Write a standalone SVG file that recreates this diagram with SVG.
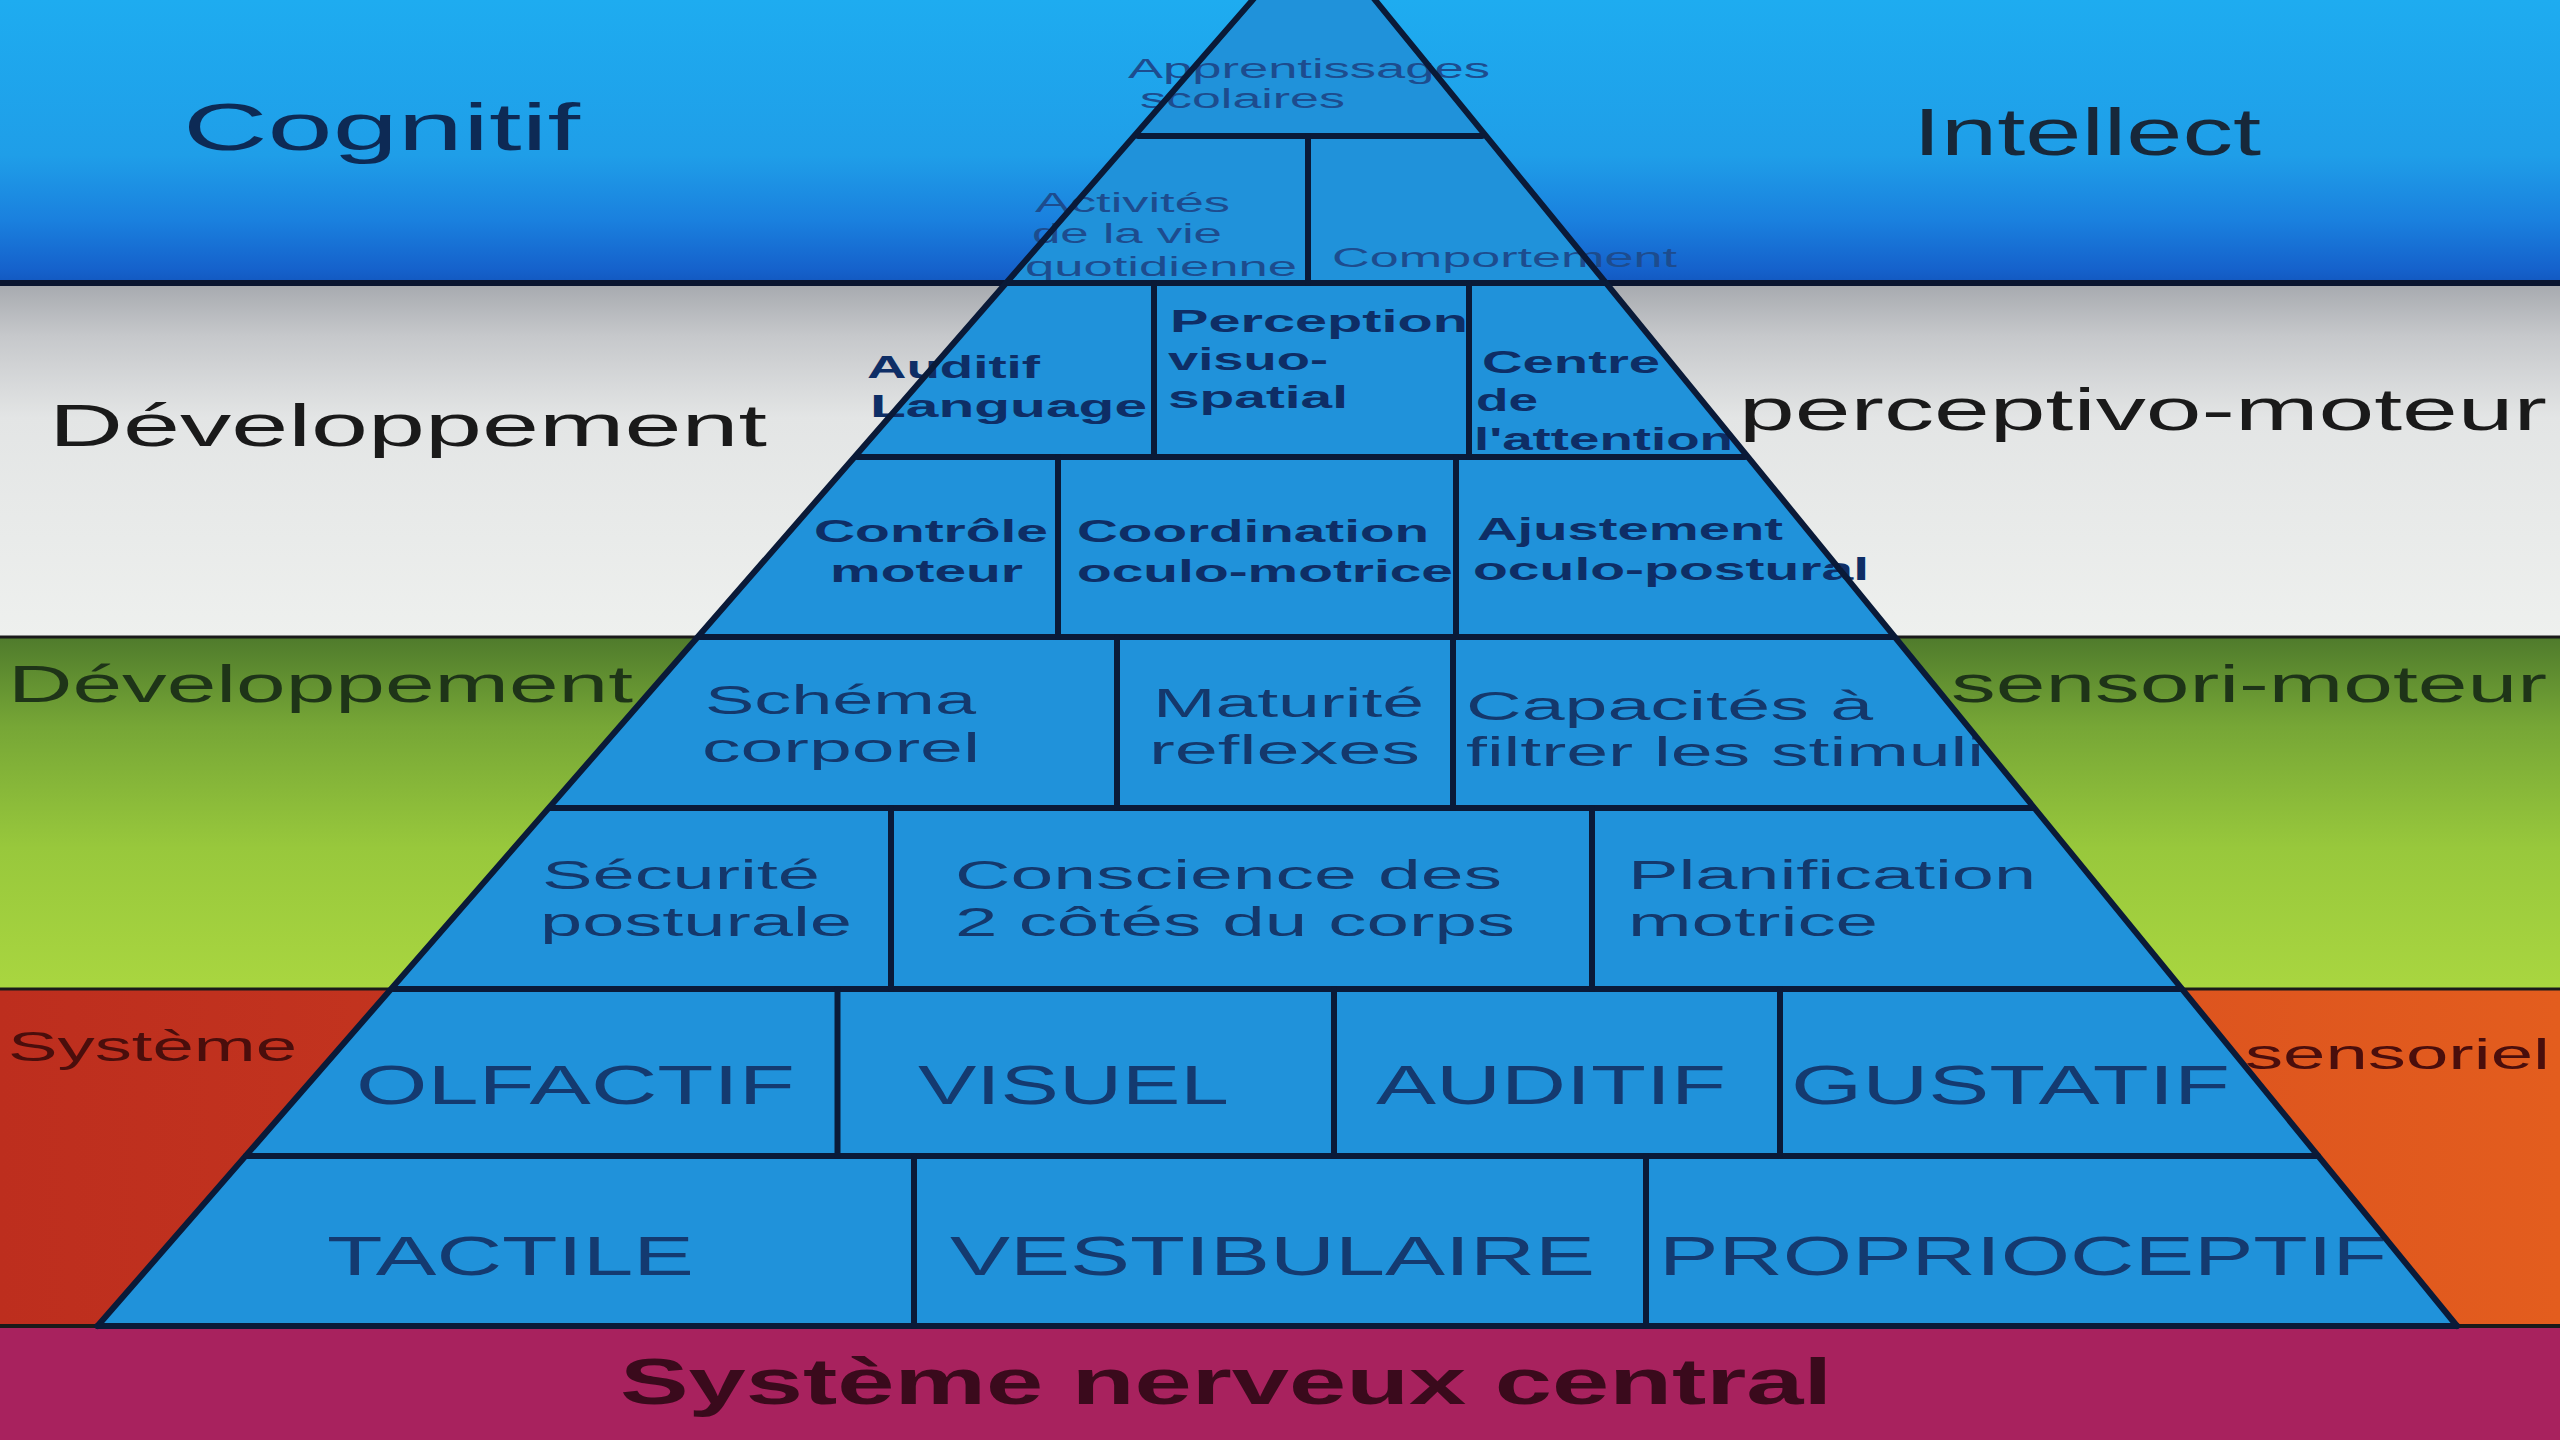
<svg xmlns="http://www.w3.org/2000/svg" width="2560" height="1440" viewBox="0 0 2560 1440">
<defs>
<linearGradient id="gBlue" x1="0" y1="0" x2="0" y2="1">
<stop offset="0" stop-color="#1eacf0"/>
<stop offset="0.55" stop-color="#1f9ee8"/>
<stop offset="0.78" stop-color="#1a80de"/>
<stop offset="0.95" stop-color="#1562cc"/>
<stop offset="1" stop-color="#1258c0"/>
</linearGradient>
<linearGradient id="gWhite" x1="0" y1="0" x2="0" y2="1">
<stop offset="0" stop-color="#a6a9ae"/>
<stop offset="0.15" stop-color="#c6c8cb"/>
<stop offset="0.38" stop-color="#e3e5e5"/>
<stop offset="1" stop-color="#eef0ee"/>
</linearGradient>
<linearGradient id="gGreen" x1="0" y1="0" x2="0" y2="1">
<stop offset="0" stop-color="#4f7b2c"/>
<stop offset="0.25" stop-color="#76a636"/>
<stop offset="0.6" stop-color="#98c83c"/>
<stop offset="1" stop-color="#a9d640"/>
</linearGradient>
<linearGradient id="gRed" x1="0" y1="0" x2="1" y2="0">
<stop offset="0" stop-color="#bd2e1e"/>
<stop offset="0.5" stop-color="#cf4020"/>
<stop offset="1" stop-color="#e35d1e"/>
</linearGradient>
<style>
text{font-family:"Liberation Sans",Arial,sans-serif;}
.side{fill:#1a1a1a;}
.cell{fill:#2092da;}
.t12{fill:#1d4c8e;font-size:27px;}
.t34{fill:#0e2e66;font-size:32px;font-weight:bold;}
.t56{fill:#14386c;font-size:41px;}
.t78{fill:#143a70;font-size:56px;}
.grid{stroke:#0a1a38;stroke-width:6;fill:none;stroke-linecap:round;}
.band{stroke:#1a1a1a;stroke-width:3;fill:none;}
</style>
</defs>

<g id="backgrounds">
<rect x="0" y="0" width="2560" height="283" fill="url(#gBlue)"/>
<rect x="0" y="283" width="2560" height="354" fill="url(#gWhite)"/>
<rect x="0" y="637" width="2560" height="352" fill="url(#gGreen)"/>
<rect x="0" y="989" width="2560" height="337" fill="url(#gRed)"/>
<rect x="0" y="1326" width="2560" height="114" fill="#a8225e"/>
</g>

<g id="side-labels">
<text class="side" x="183" y="150" font-size="66" style="fill:#0d2a55" textLength="397" lengthAdjust="spacingAndGlyphs">Cognitif</text>
<text class="side" x="1913" y="155" font-size="66" style="fill:#17283a" textLength="348" lengthAdjust="spacingAndGlyphs">Intellect</text>
<text class="side" x="49" y="446" font-size="59" textLength="718" lengthAdjust="spacingAndGlyphs">Développement</text>
<text class="side" x="1739" y="430" font-size="59" textLength="808" lengthAdjust="spacingAndGlyphs">perceptivo-moteur</text>
<text class="side" x="8" y="702" font-size="52" style="fill:#1e3418" textLength="625" lengthAdjust="spacingAndGlyphs">Développement</text>
<text class="side" x="1951" y="702" font-size="52" style="fill:#1e3418" textLength="596" lengthAdjust="spacingAndGlyphs">sensori-moteur</text>
<text class="side" x="8" y="1061" font-size="42" style="fill:#4a0e0c" textLength="289" lengthAdjust="spacingAndGlyphs">Système</text>
<text class="side" x="2245" y="1069" font-size="42" style="fill:#4a0e0c" textLength="305" lengthAdjust="spacingAndGlyphs">sensoriel</text>
</g>

<g id="snc">
<text x="620" y="1404" font-size="64" font-weight="bold" fill="#3a0a1c" textLength="1212" lengthAdjust="spacingAndGlyphs">Système nerveux central</text>
</g>

<g id="pyramid">
<g id="apprentissages">
<polygon class="cell" points="1257,0 1371,0 1482,136 1138,136"/>
<text class="t12" x="1128" y="78" textLength="362" lengthAdjust="spacingAndGlyphs">Apprentissages</text>
<text class="t12" x="1140" y="108" textLength="205" lengthAdjust="spacingAndGlyphs">scolaires</text>
</g>
<g id="activites">
<polygon class="cell" points="1138,136 1308,136 1308,283 1009.5,283"/>
<text class="t12" x="1035" y="212" textLength="195" lengthAdjust="spacingAndGlyphs">Activités</text>
<text class="t12" x="1032" y="243" textLength="190" lengthAdjust="spacingAndGlyphs">de la vie</text>
<text class="t12" x="1025" y="276" textLength="272" lengthAdjust="spacingAndGlyphs">quotidienne</text>
</g>
<g id="comportement">
<polygon class="cell" points="1308,136 1482,136 1603,283 1308,283"/>
<text class="t12" x="1332" y="267" textLength="345" lengthAdjust="spacingAndGlyphs">Comportement</text>
</g>

<g id="auditif-language">
<polygon class="cell" points="1009.5,283 1154,283 1154,457 857,457"/>
<text class="t34" x="867" y="378" textLength="173" lengthAdjust="spacingAndGlyphs">Auditif</text>
<text class="t34" x="870" y="417" textLength="277" lengthAdjust="spacingAndGlyphs">Language</text>
</g>
<g id="perception">
<polygon class="cell" points="1154,283 1469,283 1469,457 1154,457"/>
<text class="t34" x="1170" y="332" textLength="298" lengthAdjust="spacingAndGlyphs">Perception</text>
<text class="t34" x="1168" y="370" textLength="160" lengthAdjust="spacingAndGlyphs">visuo-</text>
<text class="t34" x="1168" y="408" textLength="180" lengthAdjust="spacingAndGlyphs">spatial</text>
</g>
<g id="centre-attention">
<polygon class="cell" points="1469,283 1603,283 1745,457 1469,457"/>
<text class="t34" x="1482" y="373" textLength="178" lengthAdjust="spacingAndGlyphs">Centre</text>
<text class="t34" x="1476" y="411" textLength="62" lengthAdjust="spacingAndGlyphs">de</text>
<text class="t34" x="1474" y="450" textLength="259" lengthAdjust="spacingAndGlyphs">l'attention</text>
</g>

<g id="controle-moteur">
<polygon class="cell" points="857,457 1058,457 1058,637 700,637"/>
<text class="t34" x="814" y="542" textLength="234" lengthAdjust="spacingAndGlyphs">Contrôle</text>
<text class="t34" x="830" y="582" textLength="193" lengthAdjust="spacingAndGlyphs">moteur</text>
</g>
<g id="coordination">
<polygon class="cell" points="1058,457 1456,457 1456,637 1058,637"/>
<text class="t34" x="1077" y="542" textLength="352" lengthAdjust="spacingAndGlyphs">Coordination</text>
<text class="t34" x="1077" y="582" textLength="376" lengthAdjust="spacingAndGlyphs">oculo-motrice</text>
</g>
<g id="ajustement">
<polygon class="cell" points="1456,457 1745,457 1893,637 1456,637"/>
<text class="t34" x="1477" y="540" textLength="306" lengthAdjust="spacingAndGlyphs">Ajustement</text>
<text class="t34" x="1473" y="580" textLength="396" lengthAdjust="spacingAndGlyphs">oculo-postural</text>
</g>

<g id="schema-corporel">
<polygon class="cell" points="700,637 1117,637 1117,808 550.5,808"/>
<text class="t56" x="705" y="714" textLength="271" lengthAdjust="spacingAndGlyphs">Schéma</text>
<text class="t56" x="702" y="762" textLength="278" lengthAdjust="spacingAndGlyphs">corporel</text>
</g>
<g id="maturite-reflexes">
<polygon class="cell" points="1117,637 1453,637 1453,808 1117,808"/>
<text class="t56" x="1153" y="717" textLength="271" lengthAdjust="spacingAndGlyphs">Maturité</text>
<text class="t56" x="1149" y="764" textLength="271" lengthAdjust="spacingAndGlyphs">reflexes</text>
</g>
<g id="capacites">
<polygon class="cell" points="1453,637 1893,637 2033,808 1453,808"/>
<text class="t56" x="1466" y="720" textLength="407" lengthAdjust="spacingAndGlyphs">Capacités à</text>
<text class="t56" x="1466" y="766" textLength="518" lengthAdjust="spacingAndGlyphs">filtrer les stimuli</text>
</g>

<g id="securite-posturale">
<polygon class="cell" points="550.5,808 891,808 891,989 392,989"/>
<text class="t56" x="542" y="889" textLength="278" lengthAdjust="spacingAndGlyphs">Sécurité</text>
<text class="t56" x="540" y="936" textLength="312" lengthAdjust="spacingAndGlyphs">posturale</text>
</g>
<g id="conscience">
<polygon class="cell" points="891,808 1592,808 1592,989 891,989"/>
<text class="t56" x="955" y="889" textLength="547" lengthAdjust="spacingAndGlyphs">Conscience des</text>
<text class="t56" x="955" y="936" textLength="560" lengthAdjust="spacingAndGlyphs">2 côtés du corps</text>
</g>
<g id="planification">
<polygon class="cell" points="1592,808 2033,808 2181,989 1592,989"/>
<text class="t56" x="1628" y="889" textLength="408" lengthAdjust="spacingAndGlyphs">Planification</text>
<text class="t56" x="1628" y="936" textLength="250" lengthAdjust="spacingAndGlyphs">motrice</text>
</g>

<g id="olfactif">
<polygon class="cell" points="392,989 837.5,989 837.5,1156 246,1156"/>
<text class="t78" x="356" y="1104" textLength="439" lengthAdjust="spacingAndGlyphs">OLFACTIF</text>
</g>
<g id="visuel">
<polygon class="cell" points="837.5,989 1334,989 1334,1156 837.5,1156"/>
<text class="t78" x="918" y="1104" textLength="311" lengthAdjust="spacingAndGlyphs">VISUEL</text>
</g>
<g id="auditif">
<polygon class="cell" points="1334,989 1780,989 1780,1156 1334,1156"/>
<text class="t78" x="1376" y="1104" textLength="350" lengthAdjust="spacingAndGlyphs">AUDITIF</text>
</g>
<g id="gustatif">
<polygon class="cell" points="1780,989 2181,989 2318,1156 1780,1156"/>
<text class="t78" x="1791" y="1104" textLength="439" lengthAdjust="spacingAndGlyphs">GUSTATIF</text>
</g>

<g id="tactile">
<polygon class="cell" points="246,1156 914,1156 914,1326 97.5,1326"/>
<text class="t78" x="327" y="1275" textLength="367" lengthAdjust="spacingAndGlyphs">TACTILE</text>
</g>
<g id="vestibulaire">
<polygon class="cell" points="914,1156 1646,1156 1646,1326 914,1326"/>
<text class="t78" x="950" y="1275" textLength="645" lengthAdjust="spacingAndGlyphs">VESTIBULAIRE</text>
</g>
<g id="proprioceptif">
<polygon class="cell" points="1646,1156 2318,1156 2457,1326 1646,1326"/>
<text class="t78" x="1659" y="1275" textLength="728" lengthAdjust="spacingAndGlyphs">PROPRIOCEPTIF</text>
</g>
</g>

<g id="connectors">
<line class="band" x1="0" y1="283" x2="2560" y2="283" style="stroke:#0a1530;stroke-width:6"/>
<line class="band" x1="0" y1="637" x2="2560" y2="637"/>
<line class="band" x1="0" y1="989" x2="2560" y2="989"/>
<line class="band" x1="0" y1="1326" x2="2560" y2="1326" style="stroke-width:4"/>
<line class="grid" x1="1257" y1="-5" x2="97.5" y2="1326"/>
<line class="grid" x1="1371" y1="-5" x2="2457" y2="1326"/>
<line class="grid" x1="1138" y1="136" x2="1482" y2="136"/>
<line class="grid" x1="1009.5" y1="283" x2="1603" y2="283"/>
<line class="grid" x1="857" y1="457" x2="1745" y2="457"/>
<line class="grid" x1="700" y1="637" x2="1893" y2="637"/>
<line class="grid" x1="550.5" y1="808" x2="2033" y2="808"/>
<line class="grid" x1="392" y1="989" x2="2181" y2="989"/>
<line class="grid" x1="246" y1="1156" x2="2318" y2="1156"/>
<line class="grid" x1="97.5" y1="1326" x2="2457" y2="1326"/>
<line class="grid" x1="1308" y1="136" x2="1308" y2="283"/>
<line class="grid" x1="1154" y1="283" x2="1154" y2="457"/>
<line class="grid" x1="1469" y1="283" x2="1469" y2="457"/>
<line class="grid" x1="1058" y1="457" x2="1058" y2="637"/>
<line class="grid" x1="1456" y1="457" x2="1456" y2="637"/>
<line class="grid" x1="1117" y1="637" x2="1117" y2="808"/>
<line class="grid" x1="1453" y1="637" x2="1453" y2="808"/>
<line class="grid" x1="891" y1="808" x2="891" y2="989"/>
<line class="grid" x1="1592" y1="808" x2="1592" y2="989"/>
<line class="grid" x1="837.5" y1="989" x2="837.5" y2="1156"/>
<line class="grid" x1="1334" y1="989" x2="1334" y2="1156"/>
<line class="grid" x1="1780" y1="989" x2="1780" y2="1156"/>
<line class="grid" x1="914" y1="1156" x2="914" y2="1326"/>
<line class="grid" x1="1646" y1="1156" x2="1646" y2="1326"/>
</g>
</svg>
